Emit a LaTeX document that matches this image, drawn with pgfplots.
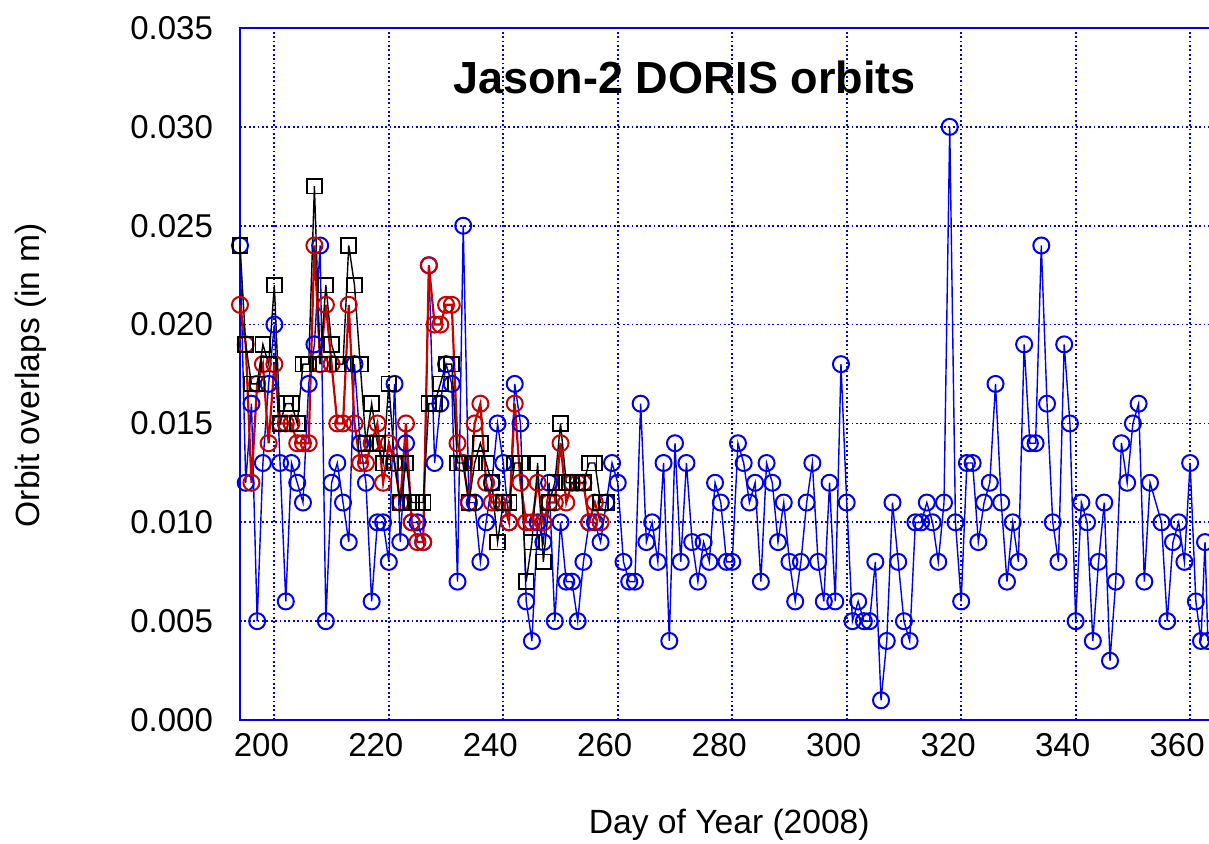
\documentclass[border=0pt]{standalone}
\usepackage{pgfplots}
\usepackage{pgfplotstable}
\pgfplotsset{compat=1.18}
\usepackage{fontspec}
\setmainfont{Liberation Sans}
\definecolor{myblue}{RGB}{0,0,235}
\definecolor{myred}{RGB}{200,0,0}

\pgfplotstableread{
x y
194 0.024
195 0.012
196 0.016
197 0.005
198 0.013
199 0.017
200 0.020
201 0.013
202 0.006
203 0.013
204 0.012
205 0.011
206 0.017
207 0.019
208 0.024
209 0.005
210 0.012
211 0.013
212 0.011
213 0.009
214 0.018
215 0.014
216 0.012
217 0.006
218 0.010
219 0.010
220 0.008
221 0.017
222 0.009
223 0.014
224 0.010
225 0.010
226 0.009
227 0.023
228 0.013
229 0.016
230 0.018
231 0.017
232 0.007
233 0.025
234 0.011
235 0.011
236 0.008
237 0.010
238 0.012
239 0.015
240 0.013
241 0.010
242 0.017
243 0.015
244 0.006
245 0.004
246 0.010
247 0.009
248 0.012
249 0.005
250 0.010
251 0.007
252 0.007
253 0.005
254 0.008
255 0.010
256 0.010
257 0.009
258 0.011
259 0.013
260 0.012
261 0.008
262 0.007
263 0.007
264 0.016
265 0.009
266 0.010
267 0.008
268 0.013
269 0.004
270 0.014
271 0.008
272 0.013
273 0.009
274 0.007
275 0.009
276 0.008
277 0.012
278 0.011
279 0.008
280 0.008
281 0.014
282 0.013
283 0.011
284 0.012
285 0.007
286 0.013
287 0.012
288 0.009
289 0.011
290 0.008
291 0.006
292 0.008
293 0.011
294 0.013
295 0.008
296 0.006
297 0.012
298 0.006
299 0.018
300 0.011
301 0.005
302 0.006
303 0.005
304 0.005
305 0.008
306 0.001
307 0.004
308 0.011
309 0.008
310 0.005
311 0.004
312 0.010
313 0.010
314 0.011
315 0.010
316 0.008
317 0.011
318 0.030
319 0.010
320 0.006
321 0.013
322 0.013
323 0.009
324 0.011
325 0.012
326 0.017
327 0.011
328 0.007
329 0.010
330 0.008
331 0.019
332 0.014
333 0.014
334 0.024
335 0.016
336 0.010
337 0.008
338 0.019
339 0.015
340 0.005
341 0.011
342 0.010
343 0.004
344 0.008
345 0.011
346 0.003
347 0.007
348 0.014
349 0.012
350 0.015
351 0.016
352 0.007
353 0.012
355 0.010
356 0.005
357 0.009
358 0.010
359 0.008
360 0.013
361 0.006
361.9 0.004
362.6 0.009
363.1 0.004
}\blueseries

\pgfplotstableread{
x y
194 0.021
195 0.019
196 0.012
197 0.017
198 0.018
199 0.014
200 0.018
201 0.015
202 0.015
203 0.015
204 0.014
205 0.014
206 0.014
207 0.024
208 0.018
209 0.021
210 0.018
211 0.015
212 0.015
213 0.021
214 0.015
215 0.013
216 0.013
217 0.014
218 0.015
219 0.012
220 0.014
221 0.013
222 0.011
223 0.015
224 0.010
225 0.009
226 0.009
227 0.023
228 0.020
229 0.020
230 0.021
231 0.021
232 0.014
233 0.013
234 0.011
235 0.015
236 0.016
237 0.012
238 0.011
239 0.011
240 0.011
241 0.010
242 0.016
243 0.012
244 0.010
245 0.010
246 0.012
247 0.010
248 0.011
249 0.011
250 0.014
251 0.011
252 0.012
253 0.012
254 0.012
255 0.010
256 0.011
257 0.010
}\redseries

\pgfplotstableread{
x y
194 0.024
195 0.019
196 0.017
197 0.017
198 0.019
199 0.018
200 0.022
201 0.015
202 0.016
203 0.016
204 0.015
205 0.018
206 0.018
207 0.027
208 0.018
209 0.022
210 0.019
211 0.018
212 0.018
213 0.024
214 0.022
215 0.018
216 0.014
217 0.016
218 0.014
219 0.013
220 0.017
221 0.013
222 0.011
223 0.013
224 0.011
225 0.011
226 0.011
227 0.016
228 0.016
229 0.017
230 0.018
231 0.018
232 0.013
233 0.013
234 0.011
235 0.013
236 0.014
237 0.013
238 0.012
239 0.009
240 0.011
241 0.011
242 0.013
243 0.013
244 0.007
245 0.009
246 0.013
247 0.008
248 0.011
249 0.012
250 0.015
251 0.012
252 0.012
253 0.012
254 0.012
255 0.013
256 0.013
257 0.011
258 0.011
}\blackseries

\begin{document}
\begin{tikzpicture}
\begin{axis}[
  scale only axis, width=492.2pt, height=346pt,
  xmin=194, xmax=366, ymin=0, ymax=0.035,
  clip=false,
  xtick={200,220,240,260,280,300,320,340,360},
  ytick={0,0.005,0.010,0.015,0.020,0.025,0.030,0.035},
  grid=major,
  grid style={myblue, line width=0.9pt, dash pattern=on 0.9pt off 1.3pt},
  axis line style={myblue, line width=0.9pt},
  tick style={draw=none},
  font=\fontsize{16.5}{19}\selectfont,
  scaled y ticks=false,
  yticklabel style={/pgf/number format/.cd, fixed, fixed zerofill, precision=3, assume math mode=true, /tikz/.cd, xshift=-10pt},
  xticklabel style={/pgf/number format/assume math mode=true, xshift=-6.5pt, yshift=-3pt},
  xlabel={Day of Year (2008)},
  xlabel style={at={(axis description cs:0.497,-0.152)}, anchor=center, font=\fontsize{16.8}{19}\selectfont},
  ylabel={Orbit overlaps (in m)},
  ylabel style={at={(axis description cs:-0.213,0.4986)}, anchor=center, font=\fontsize{16.8}{19}\selectfont},
]
\addplot[myblue, line width=0.7pt, mark=o, mark size=4pt, mark options={line width=1pt, solid}] table[x=x, y=y] {\blueseries};
\addplot[myred, line width=1.1pt, mark=o, mark size=4pt, mark options={line width=1pt, solid}] table[x=x, y=y] {\redseries};
\addplot[black, line width=0.7pt, mark=square, mark size=3.7pt, mark options={line width=0.9pt, solid}] table[x=x, y=y] {\blackseries};
\node[font=\bfseries\fontsize{22.5}{26}\selectfont] at (axis description cs:0.4515,0.928) {Jason-2 DORIS orbits};
\coordinate (BL) at (axis cs:194,0);
\coordinate (TR) at (axis cs:363.3,0.035);
\end{axis}
\pgfresetboundingbox
\path[use as bounding box] ([xshift=-120pt,yshift=-61.5pt]BL) rectangle ([yshift=14pt]TR);
\end{tikzpicture}
\end{document}
